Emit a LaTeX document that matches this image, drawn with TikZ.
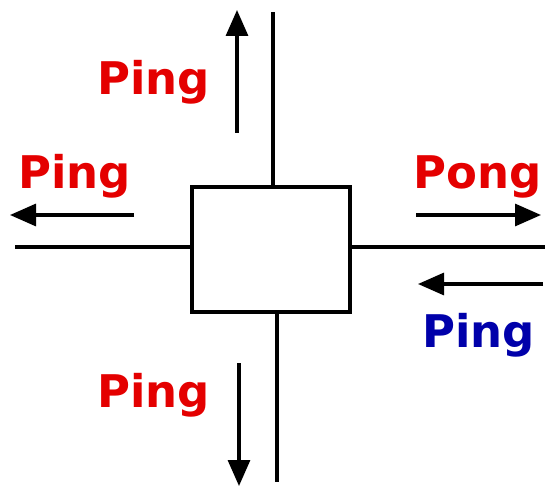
\documentclass[tikz,border=0pt]{standalone}
\usepackage{fontspec}
\setmainfont{DejaVu Sans}
\usetikzlibrary{arrows.meta, positioning}
\definecolor{pingRed}{RGB}{228,0,0}
\definecolor{pingBlue}{RGB}{0,0,170}
\tikzset{
    >={Triangle[length=26pt,width=22pt]},
    % Shapes
    hubbox/.style={rectangle, draw, line width=3.2pt, minimum width=158pt, minimum height=125pt, inner sep=0pt},
    wire/.style={line width=3.2pt},
    % Flow & Labels
    flow/.style={->, line width=3.2pt},
    msg/.style={font=\bfseries\fontsize{45}{54}\selectfont, anchor=base west, inner sep=0pt, text=pingRed}
}
\begin{document}
\begin{tikzpicture}[x=1pt, y=-1pt]
\useasboundingbox (0,0) rectangle (545,486);

\node[hubbox] (hub) at (271,249.5) {};

% wire ends
\coordinate (topEnd) at (273,12);
\coordinate (botEnd) at (277,482);
\coordinate (leftEnd) at (15,247);
\coordinate (rightEnd) at (545,247);

\draw[wire] (hub.north -| topEnd) -- (topEnd);
\draw[wire] (hub.south -| botEnd) -- (botEnd);
\draw[wire] (hub.west |- leftEnd) -- (leftEnd);
\draw[wire] (hub.east |- rightEnd) -- (rightEnd);

% message arrows
\coordinate (upFrom) at (237,133);
\coordinate (upTo) at (237,10);
\coordinate (leftFrom) at (134,215);
\coordinate (leftTo) at (10,215);
\coordinate (outFrom) at (416,215);
\coordinate (outTo) at (541,215);
\coordinate (inFrom) at (543,284);
\coordinate (inTo) at (418,284);
\coordinate (downFrom) at (239,363);
\coordinate (downTo) at (239,486);

\draw[flow] (upFrom) -- (upTo);
\draw[flow] (leftFrom) -- (leftTo);
\draw[flow] (outFrom) -- (outTo);
\draw[flow] (inFrom) -- (inTo);
\draw[flow] (downFrom) -- (downTo);

\node[msg] (pingUp) at (97,95) {Ping};
\node[msg] (pingLeft) at (18,189) {Ping};
\node[msg] (pongRight) at (413,189) {Pong};
\node[msg, text=pingBlue] (pingIn) at (422,347) {Ping};
\node[msg] (pingDown) at (97,407) {Ping};

\end{tikzpicture}
\end{document}
